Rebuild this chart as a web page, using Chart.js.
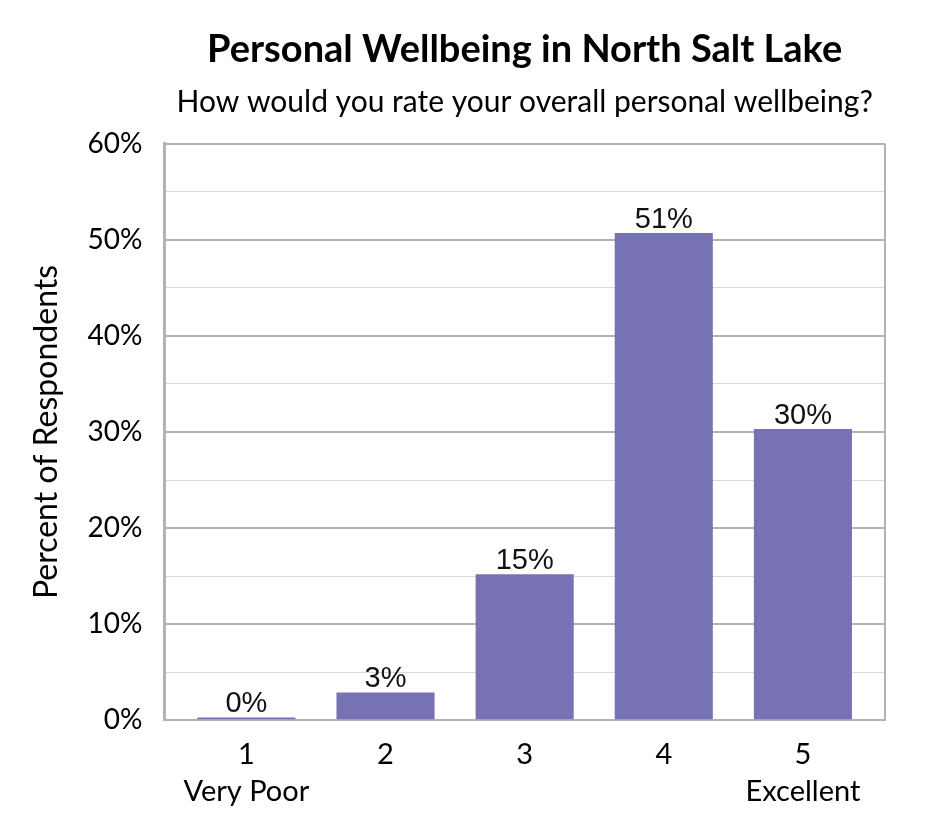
<!DOCTYPE html>
<html>
<head>
<meta charset="utf-8">
<script src="https://cdn.jsdelivr.net/npm/chart.js@4.4.1/dist/chart.umd.min.js"></script>
<style>
html,body{margin:0;padding:0;background:#fff;}
#wrap{width:945px;height:840px;position:relative;}
</style>
</head>
<body>
<div id="wrap"><canvas id="c" width="945" height="840"></canvas></div>
<script>
const categories = [['1','Very Poor'], ['2'], ['3'], ['4'], ['5','Excellent']];
const percentValues = [0.3, 2.9, 15.2, 50.7, 30.3];
const yTickValues = [0, 10, 20, 30, 40, 50, 60];

const titleText = 'Personal Wellbeing in North Salt Lake';
const subtitleText = 'How would you rate your overall personal wellbeing?';
const yAxisTitle = 'Percent of Respondents';

const points = percentValues.map((v, i) => ({ x: i, y: v }));

const barLabels = {
  id: 'barLabels',
  afterDatasetsDraw(chart) {
    const ctx = chart.ctx;
    const meta = chart.getDatasetMeta(0);
    ctx.save();
    ctx.font = '29px "Liberation Sans", Arial, sans-serif';
    ctx.fillStyle = '#111';
    ctx.textAlign = 'center';
    ctx.textBaseline = 'alphabetic';
    meta.data.forEach((bar, i) => {
      ctx.fillText(Math.round(percentValues[i]) + '%', bar.x, bar.y - 5);
    });
    ctx.restore();
  }
};

const frame = {
  id: 'frame',
  afterDraw(chart) {
    const a = chart.chartArea;
    const ctx = chart.ctx;
    ctx.save();
    ctx.strokeStyle = '#b3b3b3';
    ctx.lineWidth = 2;
    ctx.beginPath();
    ctx.moveTo(a.right, a.top);
    ctx.lineTo(a.right, a.bottom);
    ctx.stroke();
    ctx.restore();
  }
};

new Chart(document.getElementById('c'), {
  type: 'bar',
  data: {
    datasets: [{
      data: points,
      backgroundColor: '#7672b4',
      barPercentage: 0.705,
      categoryPercentage: 1.0
    }]
  },
  options: {
    responsive: false,
    animation: false,
    devicePixelRatio: 1,
    layout: { padding: { left: 27, right: 60, top: 0, bottom: 22 } },
    plugins: {
      legend: { display: false },
      tooltip: { enabled: false },
      title: {
        display: true,
        fullSize: false,
        text: titleText,
        color: '#000',
        font: { family: 'Lato', size: 38, weight: 'bold' },
        padding: { top: 27, bottom: 12 }
      },
      subtitle: {
        display: true,
        fullSize: false,
        text: subtitleText,
        color: '#000',
        font: { family: 'Lato', size: 30 },
        padding: { top: 0, bottom: 23 }
      }
    },
    scales: {
      x: {
        type: 'linear',
        min: -0.59,
        max: categories.length - 1 + 0.59,
        offset: false,
        afterBuildTicks(axis) {
          axis.ticks = categories.map((c, i) => ({ value: i }));
        },
        grid: { display: false },
        border: { color: '#b3b3b3', width: 2 },
        ticks: {
          color: '#000',
          font: { family: 'Lato', size: 29, lineHeight: 1.27 },
          padding: 8,
          maxRotation: 0,
          autoSkip: false,
          callback: (v) => categories[v]
        }
      },
      y: {
        min: 0,
        max: 60,
        afterBuildTicks(axis) {
          const t = [];
          yTickValues.forEach((v, i) => {
            t.push({ value: v });
            if (i < yTickValues.length - 1) t.push({ value: v + 5 });
          });
          axis.ticks = t;
        },
        grid: {
          color: (c) => (c.tick && c.tick.value % 10 === 0) ? '#b3b3b3' : '#d9d9d9',
          lineWidth: (c) => (c.tick && c.tick.value % 10 === 0) ? 2 : 1,
          drawTicks: false
        },
        border: { color: '#b3b3b3', width: 3 },
        title: {
          display: true,
          text: yAxisTitle,
          color: '#000',
          font: { family: 'Lato', size: 32 },
          padding: { top: 0, bottom: 0 }
        },
        ticks: {
          color: '#000',
          font: { family: 'Lato', size: 28 },
          padding: 22,
          callback: (v) => (v % 10 === 0) ? v + '%' : ''
        }
      }
    }
  },
  plugins: [barLabels, frame]
});
</script>
</body>
</html>
